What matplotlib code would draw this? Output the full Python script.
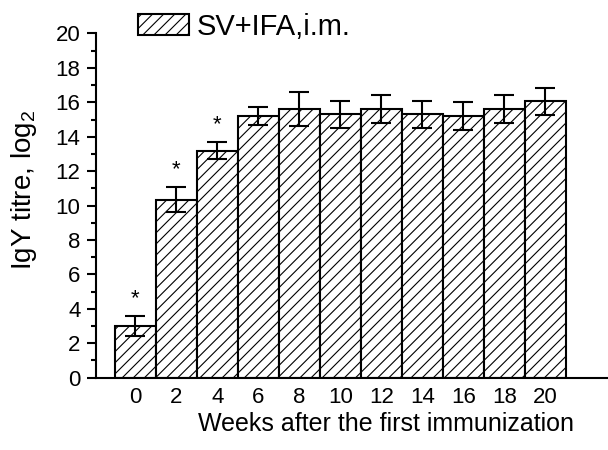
import matplotlib.pyplot as plt
from matplotlib.ticker import MultipleLocator

plt.rcParams['font.family'] = ['Liberation Sans', 'DejaVu Sans']
plt.rcParams['mathtext.default'] = 'regular'
plt.rcParams['hatch.linewidth'] = 0.8

# Data
weeks = [0, 2, 4, 6, 8, 10, 12, 14, 16, 18, 20]
titre = [3.0, 10.35, 13.2, 15.2, 15.6, 15.3, 15.6, 15.3, 15.2, 15.6, 16.05]
err = [0.6, 0.75, 0.5, 0.5, 1.0, 0.8, 0.8, 0.8, 0.8, 0.8, 0.8]
signif = [True, True, True] + [False] * 8

fig = plt.figure(figsize=(6.08, 4.5), dpi=100)
ax = fig.add_axes([0.1574, 0.1607, 0.8426, 0.7649])

ax.bar(weeks, titre, width=2, color='white', edgecolor='black',
       linewidth=1.5, hatch='///', label='SV+IFA,i.m.')
ax.errorbar(weeks, titre, yerr=err, fmt='none', ecolor='black',
            elinewidth=1.5, capsize=7, capthick=1.5)

# asterisks above the significant bars
for w, t, e, s in zip(weeks, titre, err, signif):
    if s:
        ax.text(w, t + e + 1.0, '*', ha='center', va='center', fontsize=16)

ax.set_xlim(-1.94, 23.06)
ax.set_ylim(0, 20)
ax.set_xticks(weeks)
ax.yaxis.set_major_locator(MultipleLocator(2))
ax.yaxis.set_minor_locator(MultipleLocator(1))
ax.tick_params(axis='x', length=0, pad=7, labelsize=16)
ax.tick_params(axis='y', which='major', length=6.5, width=1.5, pad=4.5, labelsize=16)
ax.tick_params(axis='y', which='minor', length=3.5, width=1.5)

for side in ['top', 'right']:
    ax.spines[side].set_visible(False)
for side in ['left', 'bottom']:
    ax.spines[side].set_linewidth(1.5)

ax.set_xlabel('Weeks after the first immunization', fontsize=18)
ax.set_ylabel('IgY titre, log$_2$', fontsize=20)
ax.xaxis.set_label_coords(0.567, -0.10)
ax.yaxis.set_label_coords(-0.11, 0.545)

fig.legend(loc='center left', bbox_to_anchor=(0.227, 0.94), frameon=False,
           fontsize=21, borderpad=0, borderaxespad=0, handlelength=1.75,
           handleheight=0.72, handletextpad=0.25)

plt.savefig('out.png', dpi=100)
